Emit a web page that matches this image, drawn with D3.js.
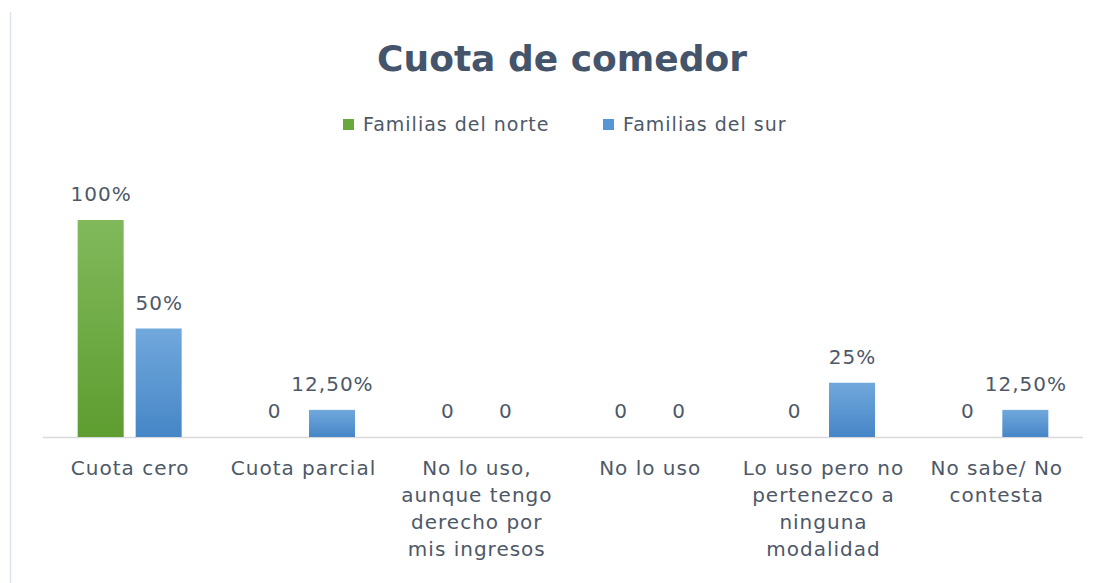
<!DOCTYPE html>
<html>
<head>
<meta charset="utf-8">
<script src="https://cdn.jsdelivr.net/npm/d3@7"></script>
<style>
  body { margin: 0; background: #fff; }
  text { font-family: "DejaVu Sans", sans-serif; fill: #4d5868; }
</style>
</head>
<body>
<div id="chart"></div>
<script>
// data
var categories = [
    ["Cuota cero"],
    ["Cuota parcial"],
    ["No lo uso,", "aunque tengo", "derecho por", "mis ingresos"],
    ["No lo uso"],
    ["Lo uso pero no", "pertenezco a", "ninguna", "modalidad"],
    ["No sabe/ No", "contesta"]
];
var seriesNames = ["Familias del norte", "Familias del sur"];
var norte = [1, 0, 0, 0, 0, 0];
var sur = [0.5, 0.125, 0, 0, 0.25, 0.125];
var norteLabels = ["100%", "0", "0", "0", "0", "0"];
var surLabels = ["50%", "12,50%", "0", "0", "25%", "12,50%"];

var width = 1110, height = 583;
var margin = {top: 220, left: 43, right: 27, bottom: 146};

var svg = d3.select("#chart").append("svg")
    .attr("width", width).attr("height", height);

// gradients for bars
var defs = svg.append("defs");
function grad(id, c1, c2) {
    var g = defs.append("linearGradient").attr("id", id)
        .attr("x1", 0).attr("y1", 0).attr("x2", 0).attr("y2", 1);
    g.append("stop").attr("offset", "0%").attr("stop-color", c1);
    g.append("stop").attr("offset", "100%").attr("stop-color", c2);
}
grad("gNorte", "#80b95b", "#5e9d30");
grad("gSur", "#71a8dc", "#4686c7");
var fills = ["url(#gNorte)", "url(#gSur)"];
var legendColors = ["#68a93e", "#5596d4"];

// left frame line
svg.append("line").attr("x1", 10.5).attr("x2", 10.5).attr("y1", 12).attr("y2", height)
    .attr("stroke", "#dde3ec").attr("stroke-width", 1.5);

var x0 = d3.scaleBand().domain(d3.range(categories.length))
    .range([margin.left, width - margin.right]).padding(0);
var barW = 46, gap = 12;
var y = d3.scaleLinear().domain([0, 1]).range([height - margin.bottom, margin.top]);

// title
svg.append("text").attr("x", 562).attr("y", 71).attr("text-anchor", "middle")
    .style("font-size", "36px").style("font-weight", "bold").style("fill", "#44546a")
    .text("Cuota de comedor");

// legend
var legend = svg.append("g");
var legX = [343, 603];
seriesNames.forEach(function(s, i) {
    legend.append("rect").attr("x", legX[i]).attr("y", 119).attr("width", 11).attr("height", 11)
        .attr("fill", legendColors[i]);
    legend.append("text").attr("x", legX[i] + 20).attr("y", 131)
        .style("font-size", "19px").style("letter-spacing", "1px").text(s);
});

// baseline
svg.append("line").attr("x1", margin.left).attr("x2", width - margin.right)
    .attr("y1", y(0) + 0.5).attr("y2", y(0) + 0.5)
    .attr("stroke", "#d9d9d9").attr("stroke-width", 1.5);

var series = [norte, sur];
var labels = [norteLabels, surLabels];
series.forEach(function(vals, si) {
    var g = svg.append("g");
    g.selectAll("rect").data(vals).enter().append("rect")
        .attr("x", function(d, i) {
            var c = x0(i) + x0.bandwidth() / 2;
            return si === 0 ? c - gap / 2 - barW : c + gap / 2;
        })
        .attr("y", function(d) { return y(d); })
        .attr("width", barW)
        .attr("height", function(d) { return y(0) - y(d); })
        .attr("fill", fills[si]);
    g.selectAll("text").data(vals).enter().append("text")
        .attr("x", function(d, i) {
            var c = x0(i) + x0.bandwidth() / 2;
            return (si === 0 ? c - gap / 2 - barW / 2 : c + gap / 2 + barW / 2) + 0.5;
        })
        .attr("y", function(d) { return y(d) - 19; })
        .attr("text-anchor", "middle")
        .style("font-size", "20px").style("letter-spacing", "1px")
        .text(function(d, i) { return labels[si][i]; });
});

// category labels
var cats = svg.append("g");
categories.forEach(function(lines, i) {
    var cx = x0(i) + x0.bandwidth() / 2 + 0.5;
    var t = cats.append("text").attr("text-anchor", "middle")
        .attr("x", cx).attr("y", 475)
        .style("font-size", "20px").style("letter-spacing", "1px");
    lines.forEach(function(l, k) {
        t.append("tspan").attr("x", cx)
            .attr("dy", k === 0 ? 0 : 27).text(l);
    });
});
</script>
</body>
</html>
